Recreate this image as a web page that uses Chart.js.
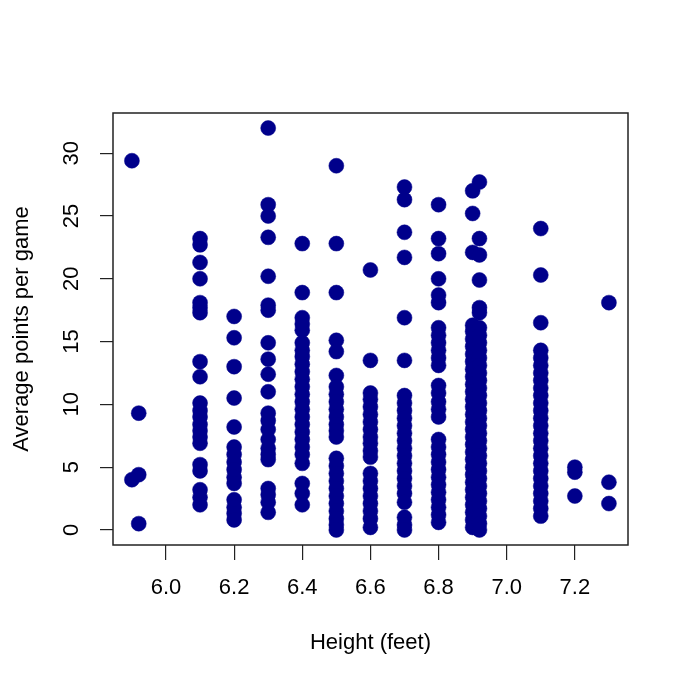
<!DOCTYPE html>
<html lang="en">
<head>
    <meta charset="UTF-8">
    <title>Height vs points per game</title>
    <style>
        body {
            margin: 0;
            padding: 0;
            background: #fff;
        }
        #wrap {
            width: 686px;
            height: 686px;
        }
    </style>
    <script src="https://cdn.jsdelivr.net/npm/chart.js"></script>
</head>
<body>
    <div id="wrap"><canvas id="scatter" width="686" height="686"></canvas></div>

    <script>
        // player heights (feet) and the average points of each player at that height
        const heights = [5.9, 5.92, 6.1, 6.2, 6.3, 6.4, 6.5, 6.6, 6.7, 6.8, 6.9, 6.92, 7.1, 7.2, 7.3];
        const pointsPerGame = [
            [29.4, 4.0],
            [9.3, 4.4, 0.5],
            [23.2, 22.7, 21.3, 20.0, 18.1, 17.7, 17.3, 13.4, 12.2, 10.1, 9.5, 9.0, 8.4, 7.9, 7.4, 6.9, 5.2, 4.7, 3.2, 2.6, 2.0],
            [17.0, 15.3, 13.0, 10.5, 8.2, 6.6, 6.0, 5.4, 4.8, 4.2, 3.7, 2.4, 1.8, 1.3, 0.8],
            [32.0, 25.9, 25.0, 23.3, 20.2, 17.9, 17.5, 14.9, 13.6, 12.4, 11.0, 9.3, 8.7, 8.0, 7.2, 6.5, 6.0, 5.6, 3.3, 2.8, 2.2, 1.4],
            [22.8, 18.9, 16.9, 16.4, 15.9, 14.9, 14.3, 13.8, 13.2, 12.6, 12.0, 11.4, 10.8, 10.2, 9.6, 9.0, 8.4, 7.8, 7.2, 6.6, 6.0, 5.3, 3.7, 2.9, 2.0],
            [29.0, 22.8, 18.9, 15.1, 14.2, 12.3, 11.4, 10.8, 10.2, 9.6, 9.0, 8.4, 7.9, 7.4, 5.7, 5.1, 4.5, 3.9, 3.3, 2.7, 2.1, 1.5, 0.9, 0.4, 0.0],
            [20.7, 13.5, 10.9, 10.4, 9.8, 9.2, 8.6, 8.0, 7.4, 6.9, 6.3, 5.8, 4.5, 3.9, 3.3, 2.7, 2.1, 1.5, 0.9, 0.2],
            [27.3, 26.3, 23.7, 21.7, 16.9, 13.5, 10.7, 10.1, 9.5, 8.9, 8.3, 7.7, 7.1, 6.5, 5.9, 5.3, 4.7, 4.1, 3.5, 2.9, 2.2, 1.0, 0.4, 0.0],
            [25.9, 23.2, 22.0, 20.0, 18.7, 18.1, 16.1, 15.5, 14.9, 14.3, 13.7, 13.1, 11.5, 10.9, 10.2, 9.6, 9.0, 7.2, 6.6, 6.0, 5.4, 4.8, 4.2, 3.6, 3.0, 2.4, 1.8, 1.2, 0.6],
            [27.0, 25.2, 22.1, 16.3, 15.8, 15.2, 14.6, 14.0, 13.4, 12.8, 12.2, 11.6, 11.0, 10.4, 9.8, 9.2, 8.6, 8.0, 7.4, 6.8, 6.2, 5.6, 5.0, 4.4, 3.8, 3.2, 2.6, 2.0, 1.4, 0.8, 0.2],
            [27.7, 23.2, 21.9, 19.9, 17.7, 17.3, 16.1, 15.5, 14.9, 14.3, 13.7, 13.1, 12.5, 11.9, 11.3, 10.7, 10.1, 9.5, 8.9, 8.3, 7.7, 7.1, 6.5, 5.9, 5.3, 4.7, 4.1, 3.5, 2.9, 2.3, 1.7, 1.1, 0.5, 0.0],
            [24.0, 20.3, 16.5, 14.3, 13.7, 13.1, 12.5, 11.9, 11.3, 10.7, 10.1, 9.5, 8.9, 8.3, 7.7, 7.1, 6.5, 5.9, 5.3, 4.7, 4.1, 3.5, 2.9, 2.3, 1.7, 1.1],
            [5.0, 4.6, 2.7],
            [18.1, 3.8, 2.1]
        ];
        const xTicks = [6.0, 6.2, 6.4, 6.6, 6.8, 7.0, 7.2];
        const yTicks = [0, 5, 10, 15, 20, 25, 30];

        const FONT = "'Liberation Sans', Arial, sans-serif";
        const DOT = '#00008B';

        // R style: box round the plot, y labels turned to read upwards
        const rStyle = {
            id: 'rStyle',
            afterDraw(chart) {
                const { ctx, chartArea: a, scales } = chart;
                ctx.save();
                ctx.strokeStyle = '#222';
                ctx.lineWidth = 1.5;
                ctx.strokeRect(a.left, a.top, a.right - a.left, a.bottom - a.top);

                ctx.fillStyle = '#000';
                ctx.font = '22px ' + FONT;
                ctx.textAlign = 'center';
                ctx.textBaseline = 'middle';
                yTicks.forEach(v => {
                    ctx.save();
                    ctx.translate(72, scales.y.getPixelForValue(v));
                    ctx.rotate(-Math.PI / 2);
                    ctx.fillText(String(v), 0, 0);
                    ctx.restore();
                });
                ctx.restore();
            }
        };

        function buildPoints() {
            return heights.flatMap((h, i) => pointsPerGame[i].map(p => ({ x: h, y: p })));
        }

        function renderChart() {
            const ctx = document.getElementById('scatter').getContext('2d');
            new Chart(ctx, {
                type: 'scatter',
                data: {
                    datasets: [{
                        data: buildPoints(),
                        backgroundColor: DOT,
                        borderColor: DOT,
                        borderWidth: 0.5,
                        pointRadius: 7.5,
                        pointHoverRadius: 7.5
                    }]
                },
                options: {
                    responsive: false,
                    animation: false,
                    events: [],
                    layout: { padding: { top: 113, right: 58, left: 0, bottom: 0 } },
                    plugins: {
                        legend: { display: false },
                        tooltip: { enabled: false }
                    },
                    scales: {
                        x: {
                            type: 'linear',
                            min: 5.8445,
                            max: 7.356,
                            afterFit: s => { s.height = 141; },
                            afterBuildTicks: s => { s.ticks = xTicks.map(v => ({ value: v })); },
                            border: { display: false },
                            grid: {
                                drawOnChartArea: false,
                                drawTicks: true,
                                tickLength: 15,
                                color: '#222',
                                lineWidth: 1.2
                            },
                            ticks: {
                                color: '#000',
                                padding: 15,
                                maxRotation: 0,
                                font: { family: FONT, size: 22 },
                                callback: v => Number(v).toFixed(1)
                            },
                            title: {
                                display: true,
                                text: 'Height (feet)',
                                color: '#000',
                                font: { family: FONT, size: 22 },
                                padding: { top: 0, bottom: 30 }
                            }
                        },
                        y: {
                            type: 'linear',
                            min: -1.2,
                            max: 33.2,
                            afterFit: s => { s.width = 113; },
                            afterBuildTicks: s => { s.ticks = yTicks.map(v => ({ value: v })); },
                            border: { display: false },
                            grid: {
                                drawOnChartArea: false,
                                drawTicks: true,
                                tickLength: 13,
                                color: '#222',
                                lineWidth: 1.2
                            },
                            ticks: { display: false },
                            title: {
                                display: true,
                                text: 'Average points per game',
                                color: '#000',
                                font: { family: FONT, size: 22 },
                                padding: { top: 9, bottom: 0 }
                            }
                        }
                    }
                },
                plugins: [rStyle]
            });
        }

        document.addEventListener('DOMContentLoaded', renderChart);
    </script>
</body>
</html>
